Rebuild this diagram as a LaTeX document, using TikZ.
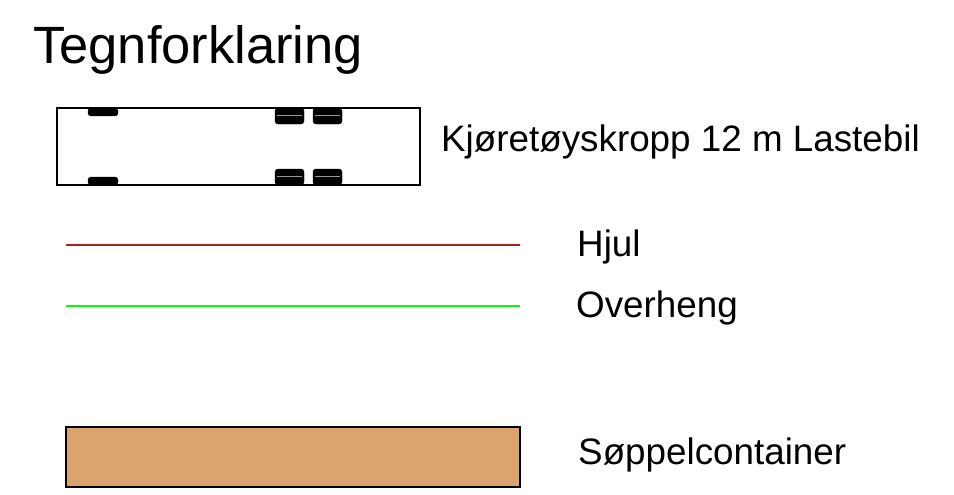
\documentclass[tikz,border=0pt]{standalone}
\usepackage{fontspec}
\setmainfont{Liberation Sans}
\definecolor{hjulred}{RGB}{168,32,32}
\definecolor{overgreen}{RGB}{0,255,0}
\definecolor{containerbrown}{RGB}{219,164,110}
\tikzset{
    legendtext/.style = {anchor = base west, inner sep = 0pt, font = \fontsize{36.8}{40}\selectfont},
    tyre/.style = {fill = black, rounded corners = 3pt}
}
\begin{document}
\begin{tikzpicture}[x = 1pt, y = -1pt]
                \useasboundingbox (0,0) rectangle (954,495);
                % tittel
                \node[anchor = base west, inner sep = 0pt, font = \fontsize{52.5}{60}\selectfont] (title) at (33,64) {Tegnforklaring};
                % kjoretoy
                \draw[black, line width = 1.3pt] (57,108) rectangle (420,185);
                \draw[tyre] (88,108) rectangle (118,116);
                \draw[tyre] (88,177) rectangle (118,185);
                \foreach \x in {275,313} {
                    \draw[tyre] (\x,108) rectangle (\x+29,124);
                    \draw[tyre] (\x,169) rectangle (\x+29,185);
                    \draw[white!60!black, line width = 0.4pt] (\x+2,115) -- (\x+27,115);
                    \draw[white!60!black, line width = 0.4pt] (\x+2,176) -- (\x+27,176);
                }
                \draw[black, line width = 1.3pt] (57,108) -- (420,108);
                \node[legendtext] (body) at (441,151) {Kjøretøyskropp 12 m Lastebil};
                % hjul og overheng
                \draw[hjulred, line width = 2.2pt] (66,245) -- (520,245);
                \node[legendtext] (hjul) at (577,256) {Hjul};
                \draw[overgreen, line width = 2.2pt] (66,306) -- (520,306);
                \node[legendtext] (overheng) at (576,317) {Overheng};
                % container
                \filldraw[fill = containerbrown, draw = black, line width = 1.3pt] (66,427) rectangle (520,487);
                \node[legendtext] (container) at (578,464) {Søppelcontainer};
            \end{tikzpicture}
\end{document}
